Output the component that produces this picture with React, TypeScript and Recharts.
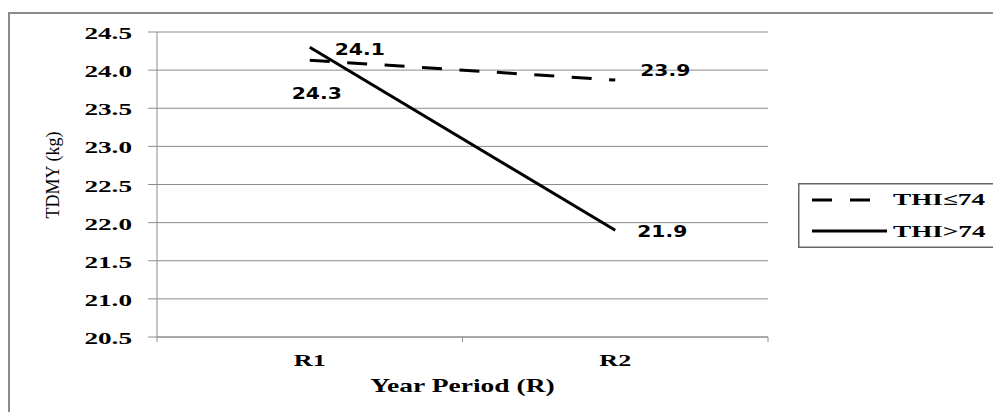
import React from 'react'
import { LineChart, Line, XAxis, YAxis, CartesianGrid, Legend, LabelList } from 'recharts'

const periods = ['R1', 'R2']
const thiLow = [24.13, 23.87] // THI≤74
const thiHigh = [24.3, 21.9] // THI>74
const yTicks = [20.5, 21.0, 21.5, 22.0, 22.5, 23.0, 23.5, 24.0, 24.5]
const xTicks = [0.5, 1, 1.5, 2, 2.5]
const seriesNames = ['THI≤74', 'THI>74']

const data = periods.map((p, i) => ({ x: i + 1, period: p, low: thiLow[i], high: thiHigh[i] }))

// label offsets from the point (layout only)
const lowLabelOffset = [
  [50, -11],
  [50, -10],
]
const highLabelOffset = [
  [7, 46],
  [47, 1],
]

const GRID = '#8c8c8c'
const SERIF = '"Liberation Serif", "Times New Roman", serif'
const SANS = '"DejaVu Sans", Verdana, sans-serif'

function YTick(props: any) {
  const { x, y, payload } = props
  return (
    <text
      transform={`translate(${x},${y + 7}) scale(1.7,1)`}
      textAnchor="end"
      fontFamily={SERIF}
      fontWeight="bold"
      fontSize={16}
      fill="#000"
    >
      {Number(payload.value).toFixed(1)}
    </text>
  )
}

function XTick(props: any) {
  const { x, y, payload } = props
  const v = payload.value
  if (!Number.isInteger(v)) {
    return <line x1={x} x2={x} y1={y} y2={y + 5} stroke={GRID} strokeWidth={1} />
  }
  return (
    <text
      transform={`translate(${x},${y + 29}) scale(1.63,1)`}
      textAnchor="middle"
      fontFamily={SERIF}
      fontWeight="bold"
      fontSize={16}
      fill="#000"
    >
      {periods[v - 1]}
    </text>
  )
}

function makeLabel(offsets: number[][]) {
  return (props: any) => {
    const { x, y, value, index } = props
    const [dx, dy] = offsets[index]
    return (
      <text
        transform={`translate(${x + dx},${y + dy}) scale(1.27,1)`}
        textAnchor="middle"
        dominantBaseline="central"
        fontFamily={SANS}
        fontWeight="bold"
        fontSize={16}
        fill="#000"
      >
        {Number(value).toFixed(1)}
      </text>
    )
  }
}

function LegendBox() {
  return (
    <svg width={200} height={65} style={{ display: 'block' }}>
      <rect x={0.75} y={0.75} width={198.5} height={63.5} fill="#fff" stroke="#666" strokeWidth={1.5} />
      <line x1={14} x2={72} y1={17} y2={17} stroke="#000" strokeWidth={3} strokeDasharray="20 18" />
      <line x1={14} x2={89} y1={48} y2={48} stroke="#000" strokeWidth={3} />
      {seriesNames.map((n, i) => (
        <text
          key={n}
          transform={`translate(95,${i === 0 ? 22 : 54}) scale(1.6,1)`}
          fontFamily={SERIF}
          fontWeight="bold"
          fontSize={17}
          fill="#000"
        >
          {n}
        </text>
      ))}
    </svg>
  )
}

export default function App() {
  return (
    <div style={{ position: 'relative', width: 993, height: 404 }}>
      <style>{'body{overflow:hidden}'}</style>
      <div
        style={{
          position: 'absolute',
          left: 0,
          top: 4,
          width: 993,
          height: 400,
          borderLeft: `2px solid ${GRID}`,
          borderTop: `2px solid ${GRID}`,
          boxSizing: 'border-box',
        }}
      />
      <LineChart
        width={993}
        height={404}
        data={data}
        margin={{ top: 24, right: 233, bottom: 45, left: 69 }}
      >
        <CartesianGrid horizontal vertical={false} stroke={GRID} />
        <XAxis
          dataKey="x"
          type="number"
          domain={[0.5, 2.5]}
          ticks={xTicks}
          interval={0}
          height={30}
          tickLine={false}
          tickSize={0}
          tickMargin={0}
          stroke={GRID}
          tick={<XTick />}
          label={{
            content: (p: any) => {
              const vb = p.viewBox
              return (
                <text
                  transform={`translate(${vb.x + vb.width / 2},384) scale(1.53,1)`}
                  textAnchor="middle"
                  fontFamily={SERIF}
                  fontWeight="bold"
                  fontSize={18}
                  fill="#000"
                >
                  Year Period (R)
                </text>
              )
            },
          }}
        />
        <YAxis
          type="number"
          domain={[20.5, 24.5]}
          ticks={yTicks}
          interval={0}
          width={80}
          tickSize={9}
          tickMargin={16}
          stroke={GRID}
          tick={<YTick />}
          label={{
            content: () => (
              <text
                transform="translate(51,167) rotate(-90)"
                textAnchor="middle"
                fontFamily={SERIF}
                fontSize={18}
                fill="#000"
              >
                TDMY (kg)
              </text>
            ),
          }}
        />
        <Legend
          layout="horizontal"
          verticalAlign="middle"
          align="center"
          content={() => <LegendBox />}
          wrapperStyle={{ position: 'absolute', left: 790, top: 175, width: 200, height: 65 }}
        />
        <Line
          type="linear"
          dataKey="low"
          name={seriesNames[0]}
          stroke="#000"
          strokeWidth={3}
          strokeDasharray="20 17.5"
          dot={false}
          activeDot={false}
          isAnimationActive={false}
        >
          <LabelList dataKey="low" content={makeLabel(lowLabelOffset)} />
        </Line>
        <Line
          type="linear"
          dataKey="high"
          name={seriesNames[1]}
          stroke="#000"
          strokeWidth={3}
          dot={false}
          activeDot={false}
          isAnimationActive={false}
        >
          <LabelList dataKey="high" content={makeLabel(highLabelOffset)} />
        </Line>
      </LineChart>
    </div>
  )
}
